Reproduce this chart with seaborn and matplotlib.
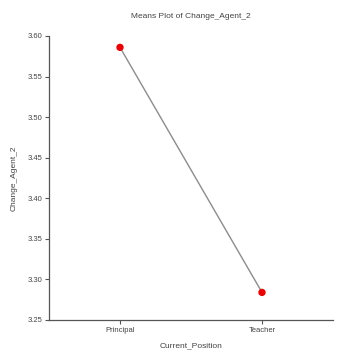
import matplotlib
matplotlib.use("Agg")
import matplotlib.pyplot as plt
import seaborn as sns
import pandas as pd

# Group means of Change_Agent_2 by position
positions = ["Principal", "Teacher"]
means = [3.586, 3.284]
y_ticks = [3.25, 3.30, 3.35, 3.40, 3.45, 3.50, 3.55, 3.60]

df = pd.DataFrame({"Current_Position": positions, "Change_Agent_2": means})

sns.set_theme(style="white")
plt.rcParams["font.family"] = ["Liberation Sans", "DejaVu Sans"]

fig = plt.figure(figsize=(3.39, 3.51), dpi=100)
ax = fig.add_axes([49 / 339, 1 - 320 / 351, 284 / 339, 284 / 351])

sns.lineplot(data=df, x="Current_Position", y="Change_Agent_2", ax=ax,
             color="#8c8c8c", linewidth=1.0, sort=False)
sns.scatterplot(data=df, x="Current_Position", y="Change_Agent_2", ax=ax,
                color="#ee0000", s=28, edgecolor="none", zorder=3)

ax.set_xlim(-0.5, 1.5)
ax.set_ylim(3.25, 3.60)
ax.set_yticks(y_ticks)
ax.set_yticklabels([f"{v:.2f}" for v in y_ticks])

for side in ("top", "right"):
    ax.spines[side].set_visible(False)
for side in ("left", "bottom"):
    ax.spines[side].set_color("#555555")
    ax.spines[side].set_linewidth(0.9)

ax.tick_params(axis="both", which="major", length=3, width=0.8, color="#555555",
               labelsize=5.5, labelcolor="#444444", pad=2, bottom=True, left=True)
ax.set_xlabel("Current_Position", fontsize=6, color="#444444", labelpad=6)
ax.set_ylabel("Change_Agent_2", fontsize=6, color="#444444", labelpad=7)
ax.set_title("Means Plot of Change_Agent_2", fontsize=6, color="#444444", pad=13)
ax.grid(False)

fig.savefig("out.png", dpi=100, facecolor="white")
